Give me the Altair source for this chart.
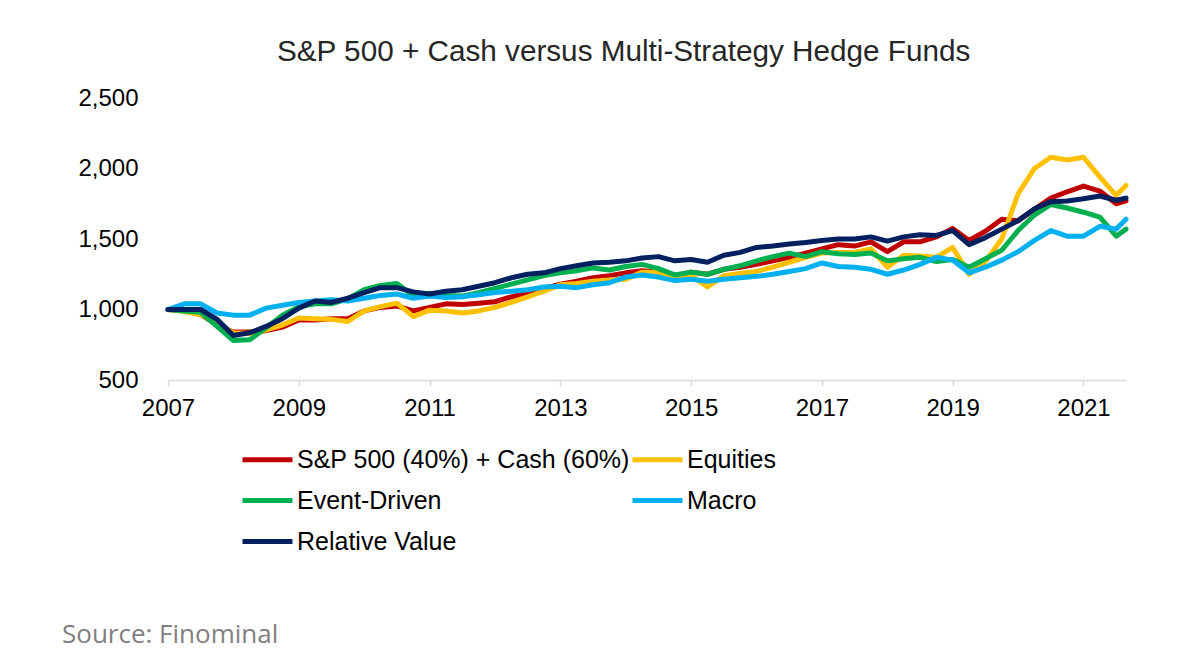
import altair as alt
import pandas as pd

# quarterly time grid (fractional years), last point a little past mid-2021
years = [2007 + 0.25 * k for k in range(59)] + [2021.65]

names = ["S&P 500 (40%) + Cash (60%)", "Equities", "Event-Driven", "Macro", "Relative Value"]
colors = ["#C00000", "#FFC000", "#00B050", "#00B0F0", "#002060"]

sp500_cash = [1000, 990, 965, 890, 840, 840, 850, 875, 925, 925,
              935, 935, 990, 1015, 1025, 990, 1015, 1040, 1035, 1045,
              1055, 1090, 1120, 1150, 1180, 1200, 1225, 1240, 1260, 1275,
              1265, 1240, 1265, 1250, 1285, 1300, 1320, 1345, 1370, 1400,
              1430, 1460, 1450, 1480, 1410, 1480, 1480, 1515, 1575, 1490,
              1555, 1640, 1630, 1710, 1790, 1835, 1875, 1840, 1750, 1770]

equities = [1000, 985, 965, 900, 835, 830, 855, 890, 940, 935,
            930, 915, 990, 1020, 1045, 950, 995, 990, 975, 990,
            1015, 1050, 1090, 1130, 1175, 1185, 1200, 1210, 1215, 1265,
            1265, 1215, 1240, 1160, 1240, 1255, 1270, 1300, 1335, 1370,
            1400, 1405, 1405, 1430, 1300, 1385, 1380, 1370, 1440, 1250,
            1340, 1500, 1820, 2000, 2080, 2060, 2080, 1940, 1810, 1880]

event_driven = [1000, 990, 980, 880, 780, 785, 870, 960, 1020, 1040,
                1040, 1075, 1140, 1170, 1185, 1100, 1115, 1100, 1095, 1120,
                1150, 1180, 1210, 1240, 1260, 1275, 1295, 1280, 1305, 1320,
                1290, 1245, 1265, 1250, 1285, 1310, 1345, 1375, 1400, 1375,
                1410, 1395, 1390, 1400, 1345, 1360, 1370, 1340, 1355, 1300,
                1360, 1420, 1560, 1670, 1745, 1720, 1690, 1655, 1520, 1570]

macro = [1000, 1040, 1040, 975, 960, 960, 1010, 1030, 1050, 1060,
         1070, 1060, 1080, 1100, 1110, 1080, 1095, 1085, 1090, 1105,
         1120, 1130, 1140, 1160, 1165, 1155, 1175, 1190, 1230, 1245,
         1230, 1205, 1215, 1200, 1215, 1225, 1235, 1250, 1270, 1290,
         1330, 1305, 1300, 1285, 1250, 1280, 1320, 1370, 1350, 1260,
         1300, 1350, 1410, 1490, 1560, 1520, 1520, 1590, 1570, 1640]

relative_value = [1000, 1000, 1000, 930, 815, 835, 880, 935, 1010, 1060,
                  1050, 1080, 1120, 1155, 1155, 1125, 1110, 1130, 1140, 1165,
                  1190, 1225, 1250, 1260, 1290, 1310, 1330, 1335, 1345, 1365,
                  1375, 1345, 1355, 1335, 1385, 1405, 1440, 1450, 1465, 1475,
                  1490, 1500, 1500, 1515, 1485, 1515, 1530, 1525, 1560, 1460,
                  1510, 1570, 1630, 1715, 1765, 1770, 1785, 1805, 1775, 1790]

x_ticks = [2007, 2009, 2011, 2013, 2015, 2017, 2019, 2021]
y_ticks = [500, 1000, 1500, 2000, 2500]

rows = []
for name, vals in zip(names, [sp500_cash, equities, event_driven, macro, relative_value]):
    for t, v in zip(years, vals):
        rows.append({"t": t, "value": v, "series": name})
df = pd.DataFrame(rows)

FONT = "Liberation Sans"

lines = alt.Chart(df).mark_line(strokeWidth=5, strokeJoin="round", strokeCap="round").encode(
    x=alt.X("t:Q",
            scale=alt.Scale(domain=[2007, 2021.65], nice=False, zero=False),
            axis=alt.Axis(values=x_ticks, format="d", title=None, grid=False,
                          domainColor="#d9d9d9", domainWidth=1.5, tickColor="#d9d9d9",
                          tickSize=6, tickWidth=1.5, labelFontSize=24, labelFont=FONT,
                          labelColor="#000000", labelPadding=10, labelFlush=False,
                          labelOverlap=False)),
    y=alt.Y("value:Q",
            scale=alt.Scale(domain=[500, 2500], nice=False, zero=False),
            axis=alt.Axis(values=y_ticks, format=",d", title=None, grid=False,
                          domain=False, ticks=False, labelFontSize=24, labelFont=FONT,
                          labelColor="#000000", labelPadding=30)),
    color=alt.Color("series:N",
                    scale=alt.Scale(domain=names, range=colors),
                    legend=alt.Legend(orient="none", legendX=72, legendY=334, columns=2,
                                      direction="horizontal",
                                      title=None, symbolType="stroke", symbolSize=2500,
                                      symbolStrokeWidth=5, labelFontSize=25,
                                      labelFont=FONT, labelColor="#000000",
                                      labelOffset=2, columnPadding=-12, rowPadding=-10,
                                      labelLimit=600)),
)

source = alt.Chart(pd.DataFrame({"label": ["Source: Finominal"]})).mark_text(
    align="left", baseline="alphabetic", fontSize=26, font="Open Sans", color="#7f7f7f"
).encode(x=alt.value(-106), y=alt.value(545), text="label:N")

chart = alt.layer(lines, source).properties(
    width=958,
    height=282,
    padding={"left": 160, "top": 90, "right": 40, "bottom": 290},
    autosize=alt.AutoSizeParams(type="none"),
    background="white",
    title=alt.Title("S&P 500 + Cash versus Multi-Strategy Hedge Funds",
                    fontSize=29.7, font=FONT, fontWeight="normal", color="#262626",
                    anchor="start", frame="group", dx=109, dy=29, offset=24,
                    baseline="alphabetic"),
).configure_view(stroke=None, strokeWidth=0)

chart.save("out.html", embed_options={"renderer": "svg", "actions": False})
